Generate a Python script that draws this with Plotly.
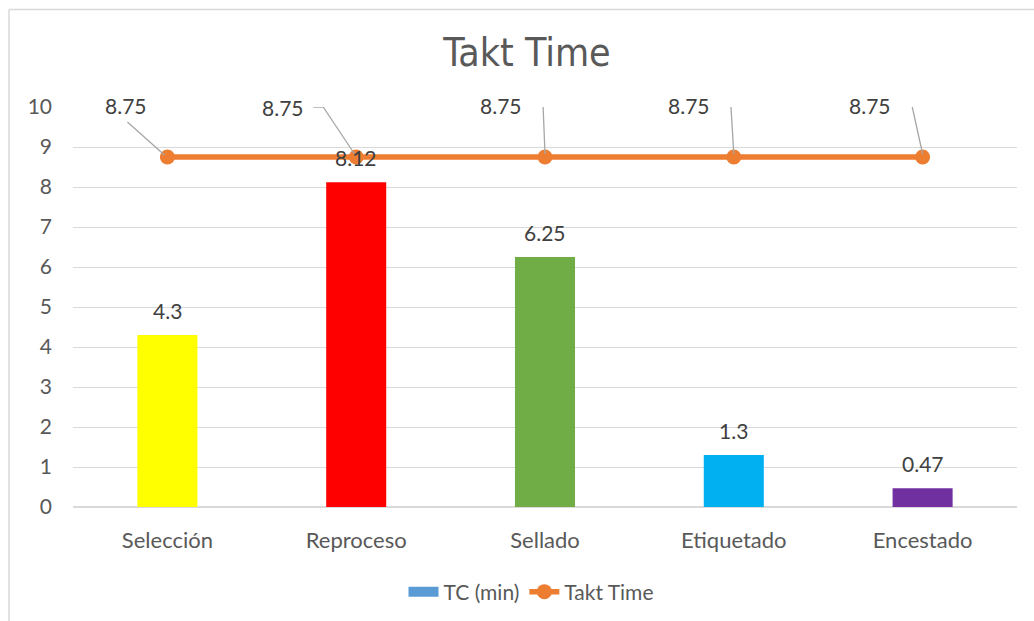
import plotly.graph_objects as go

# Chart data
categories = ["Selección", "Reproceso", "Sellado", "Etiquetado", "Encestado"]
tc_min = [4.3, 8.12, 6.25, 1.3, 0.47]
takt_time = [8.75, 8.75, 8.75, 8.75, 8.75]
y_ticks = [0, 1, 2, 3, 4, 5, 6, 7, 8, 9, 10]

bar_colors = ["#FFFF00", "#FF0000", "#70AD47", "#00B0F0", "#7030A0"]
legend_bar_color = "#5B9BD5"
line_color = "#ED7D31"
grid_color = "#D9D9D9"
text_color = "#595959"
label_color = "#404040"
leader_color = "#A6A6A6"
font_family = "Lato, Carlito, Calibri, sans-serif"
title_family = "Liberation Sans Narrow, DejaVu Sans Condensed, Arial Narrow, sans-serif"

# Pixel offsets of the takt-time labels and their leader lines (relative to each point)
label_offsets = [(-41, 52), (-73, 50), (-44, 52), (-45, 52), (-53, 52)]
leader_paths = [
    "M-40,35 L-3,2",
    "M-43,50 L-33,50 L-1,2",
    "M-14,53 L-2,53 L0,3",
    "M-14,53 L-3,53 L0,3",
    "M-24,53 L-11,53 L0,3",
]

fig = go.Figure()

# Legend-only swatch for the bar series (a thick line gives a wide rectangle)
fig.add_trace(go.Scatter(
    x=[None], y=[None], name="TC (min)", mode="lines",
    line=dict(color=legend_bar_color, width=14), showlegend=True,
))

fig.add_trace(go.Bar(
    x=categories, y=tc_min, name="TC (min)",
    marker=dict(color=bar_colors, line=dict(width=0)),
    width=0.318, showlegend=False, hoverinfo="x+y",
))

fig.add_trace(go.Scatter(
    x=categories, y=takt_time, name="Takt Time",
    mode="lines+markers",
    line=dict(color=line_color, width=5.5),
    marker=dict(color=line_color, size=15),
))

annotations = []
# Bar value labels
for cat, val in zip(categories, tc_min):
    annotations.append(dict(
        x=cat, y=val, text=f"{val:g}", showarrow=False,
        yanchor="middle", xanchor="center", yshift=25,
        font=dict(size=21, color=label_color, family=font_family),
    ))

shapes = []
# Takt time labels with leader lines
for cat, val, (dx, dy), path in zip(categories, takt_time, label_offsets, leader_paths):
    annotations.append(dict(
        x=cat, y=val, text=f"{val:g}", showarrow=False,
        xanchor="center", yanchor="middle", xshift=dx, yshift=dy,
        font=dict(size=21, color=label_color, family=font_family),
    ))
    shapes.append(dict(
        type="path", xref="x", yref="y",
        xsizemode="pixel", ysizemode="pixel",
        xanchor=cat, yanchor=val, path=path,
        line=dict(color=leader_color, width=1.3),
        layer="above",
    ))

# Chart-area frame (left and top edges)
shapes.append(dict(type="line", xref="paper", yref="paper",
                   x0=(9 - 73) / 944, x1=(1040 - 73) / 944,
                   y0=(507 - 9.5) / 400, y1=(507 - 9.5) / 400,
                   line=dict(color=grid_color, width=1.5)))
shapes.append(dict(type="line", xref="paper", yref="paper",
                   x0=(9 - 73) / 944, x1=(9 - 73) / 944,
                   y0=(507 - 9.5) / 400, y1=(507 - 630) / 400,
                   line=dict(color=grid_color, width=1.5)))

fig.update_layout(
    width=1034, height=621,
    margin=dict(l=73, r=17, t=107, b=114, pad=0, autoexpand=False),
    paper_bgcolor="white", plot_bgcolor="white",
    font=dict(family=font_family, color=text_color, size=21),
    title=dict(
        text="Takt Time", x=527 / 1034, y=1 - 52 / 621,
        xanchor="center", yanchor="middle",
        font=dict(family=title_family, size=39, color=text_color),
    ),
    barmode="overlay",
    showlegend=True,
    legend=dict(
        orientation="h", x=(531 - 73) / 944, y=(507 - 592) / 400,
        xanchor="center", yanchor="middle",
        font=dict(size=21, color=text_color, family=font_family),
        bgcolor="rgba(0,0,0,0)",
    ),
    annotations=annotations,
    shapes=shapes,
)

fig.update_xaxes(
    type="category", showgrid=False, showline=False, zeroline=False,
    ticks="", ticklabelstandoff=18, automargin=False,
    tickfont=dict(size=22, color=text_color, family=font_family),
)
fig.update_yaxes(
    range=[0, 10], tickvals=y_ticks, showgrid=True,
    gridcolor=grid_color, gridwidth=1,
    zeroline=True, zerolinecolor=grid_color, zerolinewidth=1.5,
    showline=False, ticks="", ticklabelstandoff=20, automargin=False,
    tickfont=dict(size=21, color=text_color, family=font_family),
)

fig.write_html("out.html")
